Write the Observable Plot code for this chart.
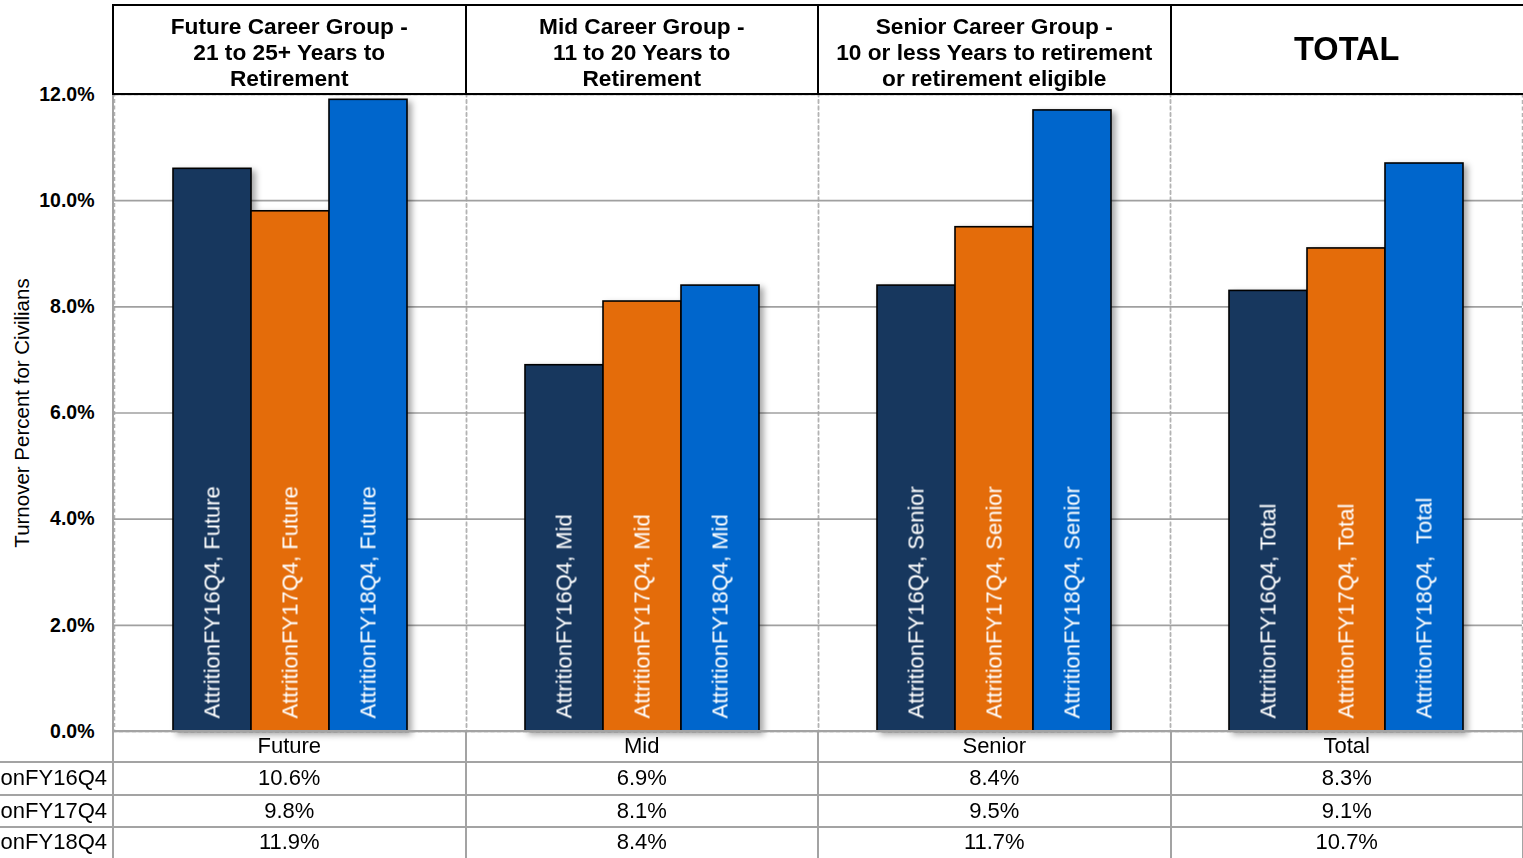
<!DOCTYPE html>
<html>
<head>
<meta charset="utf-8">
<script src="https://cdn.jsdelivr.net/npm/d3@7"></script>
<script src="https://cdn.jsdelivr.net/npm/@observablehq/plot@0.6"></script>
<style>
  html, body { margin: 0; padding: 0; background: #fff; }
  #wrap { position: relative; width: 1523px; height: 858px; overflow: hidden; font-family: "Liberation Sans", Arial, sans-serif; }
  #wrap svg { position: absolute; left: 0; top: 0; }
  .hdr { position: absolute; top: 4px; left: 112px; width: 1413px; height: 87px; border-top: 2px solid #000; border-bottom: 2px solid #000; display: flex; }
  .hcell { flex: 0 0 auto; box-sizing: border-box; border-left: 2px solid #000; text-align: center; font-weight: bold; color: #000; position: relative; }
  .hcell .txt { position: absolute; left: 0; right: 0; top: 7px; font-size: 22.7px; line-height: 26px; }
  .hcell .big { position: absolute; left: 0; right: 0; top: 25px; font-size: 32.5px; line-height: 36px; }
  .tbl { position: absolute; left: 0; top: 730px; width: 1523px; height: 128px; }
  .tline { position: absolute; background: #a3a3a3; }
  .tcell { position: absolute; font-size: 22px; color: #000; display: flex; align-items: center; justify-content: center; white-space: nowrap; }
  .tcell.lab { justify-content: flex-end; overflow: hidden; }
  .axisline { position: absolute; left: 112px; top: 94px; width: 2px; height: 637px; background: #a3a3a3; }
</style>
</head>
<body>
<div id="wrap"></div>
<script>
// ---- data ----
const groups = ["Future", "Mid", "Senior", "Total"];
const groupTitles = [
  ["Future Career Group -", "21 to 25+ Years to", "Retirement"],
  ["Mid Career Group -", "11 to 20 Years to", "Retirement"],
  ["Senior Career Group -", "10 or less Years to retirement", "or retirement eligible"],
  ["TOTAL"]
];
const series = ["AttritionFY16Q4", "AttritionFY17Q4", "AttritionFY18Q4"];
const fy16 = [10.6, 6.9, 8.4, 8.3];
const fy17 = [9.8, 8.1, 9.5, 9.1];
const fy18 = [11.9, 8.4, 11.7, 10.7];
const barLabels = [
  ["AttritionFY16Q4, Future", "AttritionFY17Q4, Future", "AttritionFY18Q4, Future"],
  ["AttritionFY16Q4, Mid", "AttritionFY17Q4, Mid", "AttritionFY18Q4, Mid"],
  ["AttritionFY16Q4, Senior", "AttritionFY17Q4, Senior", "AttritionFY18Q4, Senior"],
  ["AttritionFY16Q4, Total", "AttritionFY17Q4, Total", "AttritionFY18Q4,  Total"]
];
const colors = ["#17375E", "#E46C0A", "#0066CC"];
const yTicks = [0, 2, 4, 6, 8, 10, 12];
const yTitle = "Turnover Percent for Civilians";

const seriesValues = [fy16, fy17, fy18];
const rows = groups.flatMap((g, i) => series.map((s, j) => ({
  group: g, series: s, value: seriesValues[j][i], label: barLabels[i][j]
})));

// ---- layout ----
const W = 1523, H = 858, mL = 113, mT = 94, mB = 127, mR = 0;
const font = '"Liberation Sans", Arial, sans-serif';

const chart = Plot.plot({
  width: W, height: H,
  marginLeft: mL, marginTop: mT, marginBottom: mB, marginRight: mR,
  style: { fontFamily: font, fontSize: "19px", background: "transparent", overflow: "visible" },
  fx: { domain: groups, padding: 0, axis: null, label: null },
  x: { domain: series, paddingInner: 0, paddingOuter: 0.75, axis: null, label: null },
  y: { domain: [0, 12], ticks: yTicks, tickFormat: d => d.toFixed(1) + "%", tickSize: 0, tickPadding: 20, label: null },
  color: { domain: series, range: colors },
  marks: [
    Plot.frame({ stroke: "#b3b3b3", strokeWidth: 1.5, strokeDasharray: "4,2.5" }),
    Plot.ruleY(yTicks, { stroke: "#a0a0a0", strokeWidth: 1.6 }),
    Plot.barY(rows, { fx: "group", x: "series", y: "value", fill: "series", stroke: "#000", strokeWidth: 1.6 }),
    Plot.text(rows, { fx: "group", x: "series", y: 0, text: "label", rotate: -90, textAnchor: "start", dy: -13, fill: "white", fontSize: 22, fontWeight: "normal" }),
    Plot.text([yTitle], { fx: [groups[0]], frameAnchor: "left", textAnchor: "middle", dx: -92, rotate: -90, text: d => d, fontSize: 20.5, fontWeight: "normal", fill: "#000" })
  ]
});

const wrap = document.getElementById("wrap");
wrap.appendChild(chart);

// bold y tick labels
chart.querySelectorAll('g[aria-label^="y-axis"] text').forEach(t => {
  t.style.fontWeight = "bold"; t.style.fontSize = "19.5px";
});
// bar shadows
chart.querySelectorAll('g[aria-label="bar"]').forEach(g => {
  g.style.filter = "drop-shadow(4px 3px 3px rgba(0,0,0,0.35))";
});

// left axis line
const al = document.createElement("div"); al.className = "axisline"; wrap.appendChild(al);

// ---- header table ----
const colW = (W - mL - mR) / groups.length;
const hdr = document.createElement("div"); hdr.className = "hdr";
groupTitles.forEach((lines, i) => {
  const c = document.createElement("div"); c.className = "hcell";
  c.style.width = colW + "px";
  const t = document.createElement("div");
  t.className = lines.length === 1 ? "big" : "txt";
  t.innerHTML = lines.join("<br>");
  c.appendChild(t); hdr.appendChild(c);
});
wrap.appendChild(hdr);

// ---- bottom data table ----
const tbl = document.createElement("div"); tbl.className = "tbl";
const rowTops = [1, 32, 65, 97];
const rowH = [31, 33, 32, 31];
const addLine = (x, y, w, h) => { const d = document.createElement("div"); d.className = "tline"; Object.assign(d.style, { left: x + "px", top: y + "px", width: w + "px", height: h + "px" }); tbl.appendChild(d); };
const addCell = (x, y, w, h, text, cls) => { const d = document.createElement("div"); d.className = "tcell" + (cls ? " " + cls : ""); Object.assign(d.style, { left: x + "px", top: y + "px", width: w + "px", height: h + "px" }); d.textContent = text; tbl.appendChild(d); };
addLine(mL, 0, W - mL, 2);
[31, 64, 96].forEach(y => addLine(0, y, W, 2));
for (let i = 0; i <= groups.length; i++) addLine(Math.round(mL + i * colW) - 1, 0, 2, 128);
groups.forEach((g, i) => addCell(mL + i * colW, rowTops[0], colW, rowH[0] - 1, g));
series.forEach((s, j) => {
  addCell(-200, rowTops[j + 1], 200 + mL - 6, rowH[j + 1] - 1, s, "lab");
  groups.forEach((g, i) => addCell(mL + i * colW, rowTops[j + 1], colW, rowH[j + 1] - 1, seriesValues[j][i].toFixed(1) + "%"));
});
wrap.appendChild(tbl);
</script>
</body>
</html>
